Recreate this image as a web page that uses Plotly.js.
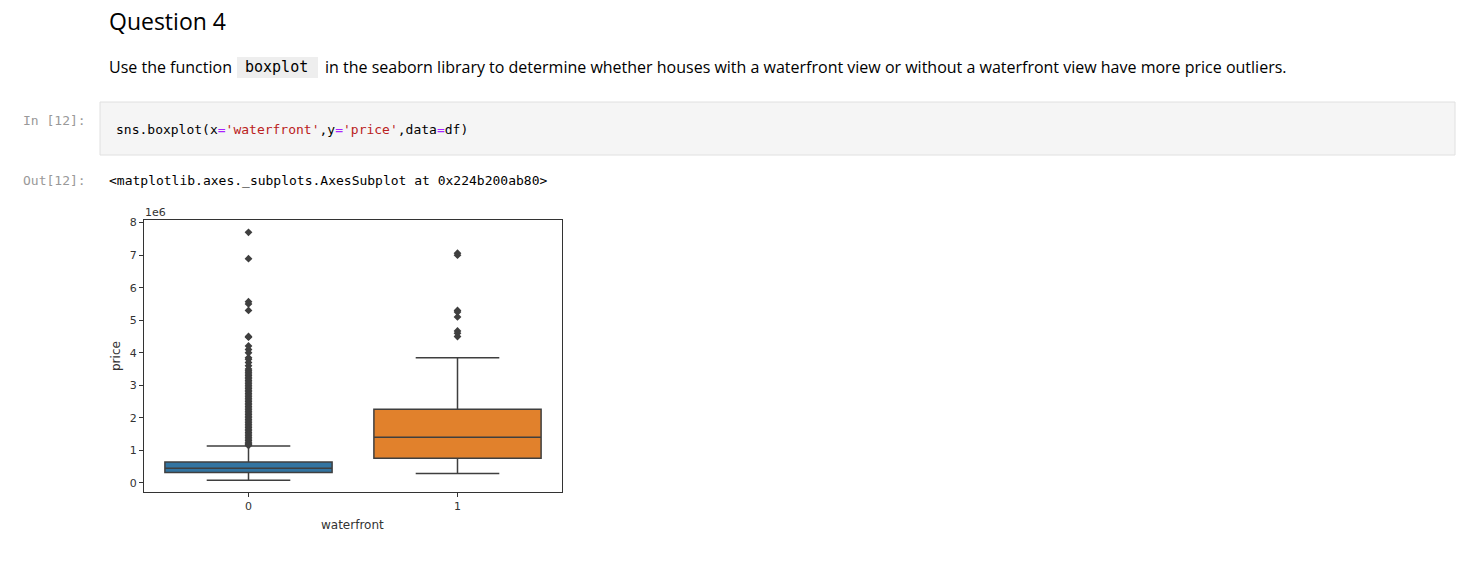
<!DOCTYPE html>
<html><head><meta charset="utf-8">
<script src="https://cdn.plot.ly/plotly-3.0.1.min.js"></script>
<style>body{margin:0;background:#fff}</style></head>
<body><div id="chart" style="width:1472px;height:566px"></div>
<script>
const categories = ['0', '1'];
const q1 = [322000, 760000];
const median = [450000, 1400000];
const q3 = [645000, 2260000];
const lowerfence = [78000, 285000];
const upperfence = [1130000, 3850000];
const outliers0 = [7700000, 6890000, 5570000, 5500000, 5300000, 4500000, 4480000, 4210000, 4100000, 4000000, 3850000, 3800000, 3700000, 3600000,
  3500000, 3450000, 3400000, 3350000, 3300000, 3250000, 3200000, 3150000, 3100000, 3050000, 3000000, 2950000, 2900000, 2850000, 2800000,
  2750000, 2700000, 2650000, 2600000, 2550000, 2500000, 2450000, 2400000, 2350000, 2300000, 2250000, 2200000, 2150000, 2100000, 2050000,
  2000000, 1950000, 1900000, 1850000, 1800000, 1750000, 1700000, 1650000, 1600000, 1550000, 1500000, 1450000, 1400000, 1350000, 1300000,
  1250000, 1200000, 1170000, 1150000];
const outliers1 = [7060000, 7000000, 5300000, 5250000, 5100000, 4670000, 4600000, 4500000];
const colors = ['#3274a1', '#e1812c'];

const L=144,R=562,T=220,B=492;
const px = x => (x-L)/(R-L), py = y => (B-y)/(B-T);

const traces = categories.map((c,i)=>({
  type:'box', x:[c], q1:[q1[i]], median:[median[i]], q3:[q3[i]],
  lowerfence:[lowerfence[i]], upperfence:[upperfence[i]],
  fillcolor:colors[i], line:{color:'#3f3f3f', width:1.5},
  width:0.8, whiskerwidth:0.5, boxpoints:false, hoverinfo:'skip', showlegend:false
}));
[outliers0, outliers1].forEach((o,i)=>traces.push({
  type:'scatter', mode:'markers', x:o.map(()=>categories[i]), y:o,
  marker:{symbol:'diamond', size:6, color:'#3f3f3f'}, showlegend:false, hoverinfo:'skip'
}));

const mono = 'DejaVu Sans Mono, monospace';
const sans = 'Open Sans, Noto Sans, sans-serif';
function ann(x,y,text,opt){return Object.assign({xref:'paper',yref:'paper',x:px(x),y:py(y),text,showarrow:false,xanchor:'left',yanchor:'middle'},opt||{});}

const layout = {
  width:1472, height:566, margin:{l:L,r:1472-R,t:T,b:566-B},
  paper_bgcolor:'#fff', plot_bgcolor:'#fff', boxmode:'overlay',
  xaxis:{type:'category', range:[-0.5,1.5], showgrid:false, zeroline:false, showline:true, mirror:true, linecolor:'#333', linewidth:1,
    ticks:'outside', ticklen:4, tickcolor:'#333', tickfont:{family:'DejaVu Sans',size:11,color:'#333'}},
  yaxis:{range:[-280000,8080000], tickvals:[0,1e6,2e6,3e6,4e6,5e6,6e6,7e6,8e6], ticktext:['0','1','2','3','4','5','6','7','8'],
    showgrid:false, zeroline:false, showline:true, mirror:true, linecolor:'#333', linewidth:1,
    ticks:'outside', ticklen:4, tickcolor:'#333', tickfont:{family:'DejaVu Sans',size:11,color:'#333'}},
  shapes:[
    {type:'rect',xref:'paper',yref:'paper',x0:px(100),x1:px(1455),y0:py(155),y1:py(102),fillcolor:'#f5f5f5',line:{color:'#e0e0e0',width:1},layer:'below'},
    {type:'rect',xref:'paper',yref:'paper',x0:px(237),x1:px(318),y0:py(78),y1:py(57),fillcolor:'#eeeeee',line:{width:0},layer:'below'}
  ],
  annotations:[
    ann(107,21,'Question 4',{font:{family:sans,size:23,color:'#000'}}),
    ann(107,67,'Use the function',{font:{family:sans,size:16,color:'#000'}}),
    ann(243,67,'boxplot',{font:{family:mono,size:15,color:'#000'}}),
    ann(323,67,'in the seaborn library to determine whether houses with a waterfront view or without a waterfront view have more price outliers.',{font:{family:sans,size:16,color:'#000'}}),
    ann(21,120,'In [12]:',{font:{family:mono,size:13,color:'#999'}}),
    ann(114,129,"sns.boxplot(x<span style='color:#aa22ff'>=</span><span style='color:#ba2121'>'waterfront'</span>,y<span style='color:#aa22ff'>=</span><span style='color:#ba2121'>'price'</span>,data<span style='color:#aa22ff'>=</span>df)",{font:{family:mono,size:13,color:'#000'}}),
    ann(21,180,'Out[12]:',{font:{family:mono,size:13,color:'#999'}}),
    ann(107,180,'&lt;matplotlib.axes._subplots.AxesSubplot at 0x224b200ab80&gt;',{font:{family:mono,size:13,color:'#000'}}),
    ann(143,212,'1e6',{font:{family:'DejaVu Sans',size:11,color:'#333'}}),
    ann(116,356,'price',{textangle:-90,xanchor:'center',font:{family:'DejaVu Sans',size:12,color:'#333'}}),
    ann(352,525,'waterfront',{xanchor:'center',font:{family:'DejaVu Sans',size:12,color:'#333'}})
  ]
};
Plotly.newPlot('chart', traces, layout, {staticPlot:true});
</script></body></html>
